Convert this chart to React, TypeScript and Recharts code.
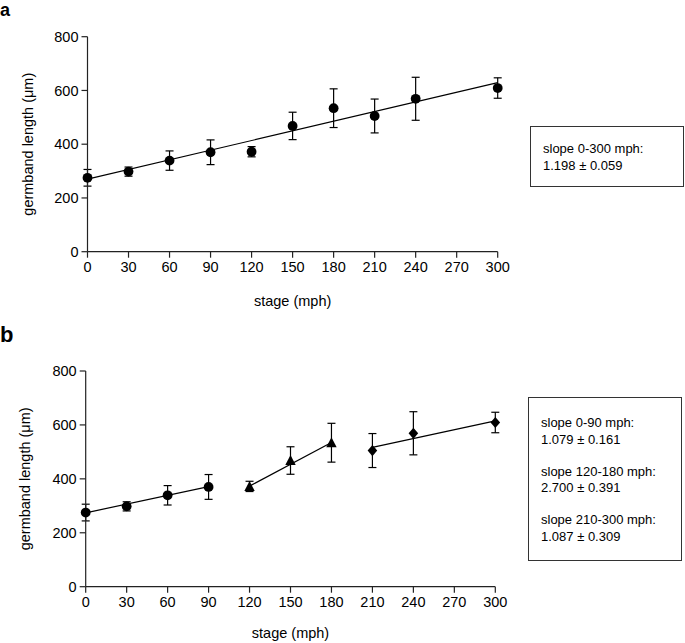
import React from 'react';
import {
  ErrorBar,
  Label,
  ReferenceLine,
  Scatter,
  ScatterChart,
  XAxis,
  YAxis,
} from 'recharts';

// ─── Data ────────────────────────────────────────────────────────────

const STAGES = [0, 30, 60, 90, 120, 150, 180, 210, 240, 300];
const LENGTH_MEANS = [275, 298, 339, 370, 372, 468, 534, 505, 569, 609];
const LENGTH_ERRORS = [31, 17, 36, 46, 19, 51, 72, 63, 80, 38];

const X_TICKS = [0, 30, 60, 90, 120, 150, 180, 210, 240, 270, 300];
const Y_TICKS = [0, 200, 400, 600, 800];

// linear fit over the whole range (panel a)
const FIT_ALL_STAGES = [0, 300];
const FIT_ALL_VALUES = [270, 629];

// piecewise fits (panel b)
const SEGMENT_RANGES = [
  [0, 90],
  [120, 180],
  [210, 300],
];
const SEGMENT_MARKERS = ['circle', 'triangle', 'diamond'];
const SEGMENT_FIT_VALUES = [
  [274, 371],
  [373, 535],
  [517, 615],
];

const SLOPES_A = [['slope 0-300 mph:', '1.198 \u00b1 0.059']];
const SLOPES_B = [
  ['slope 0-90 mph:', '1.079 \u00b1 0.161'],
  ['slope 120-180 mph:', '2.700 \u00b1 0.391'],
  ['slope 210-300 mph:', '1.087 \u00b1 0.309'],
];

// ─── Helpers ─────────────────────────────────────────────────────────

const FONT = '"Liberation Sans", Arial, Helvetica, sans-serif';
const AXIS_COLOR = '#222';

const points = STAGES.map((x, i) => ({ x, y: LENGTH_MEANS[i], err: LENGTH_ERRORS[i] }));

function Marker(props: any) {
  const { cx, cy, kind } = props;
  if (cx == null || cy == null) return null;
  if (kind === 'triangle') {
    return <polygon points={`${cx},${cy - 5.5} ${cx - 5.2},${cy + 4.5} ${cx + 5.2},${cy + 4.5}`} fill="#000" />;
  }
  if (kind === 'diamond') {
    return <polygon points={`${cx},${cy - 5.6} ${cx + 4.8},${cy} ${cx},${cy + 5.6} ${cx - 4.8},${cy}`} fill="#000" />;
  }
  return <circle cx={cx} cy={cy} r={4.9} fill="#000" />;
}

const tickStyle = { fontSize: 14.5, fill: '#000', fontFamily: FONT };

interface PanelProps {
  top: number;
  height: number;
  margin: { top: number; right: number; bottom: number; left: number };
  yTitleX: number;
  xTitleGap: number;
  children: React.ReactNode;
}

const Panel: React.FC<PanelProps> = ({ top, height, margin, yTitleX, xTitleGap, children }) => (
  <div style={{ position: 'absolute', left: 0, top }}>
    <ScatterChart width={685} height={height} margin={margin}>
      <XAxis
        type="number"
        dataKey="x"
        domain={[0, 300]}
        ticks={X_TICKS}
        interval={0}
        height={30}
        tickSize={6}
        tickMargin={4}
        tick={tickStyle}
        stroke={AXIS_COLOR}
        strokeWidth={1.2}
      >
        <Label
          content={({ viewBox }: any) => (
            <text
              x={viewBox.x + viewBox.width / 2}
              y={viewBox.y + xTitleGap}
              textAnchor="middle"
              dominantBaseline="central"
              fontSize={14.5}
              fontFamily={FONT}
              fill="#000"
            >
              stage (mph)
            </text>
          )}
        />
      </XAxis>
      <YAxis
        type="number"
        dataKey="y"
        domain={[0, 800]}
        ticks={Y_TICKS}
        interval={0}
        width={60}
        tickSize={6}
        tickMargin={3}
        tick={tickStyle}
        stroke={AXIS_COLOR}
        strokeWidth={1.2}
      >
        <Label
          content={({ viewBox }: any) => {
            const cy = viewBox.y + viewBox.height / 2;
            return (
              <text
                x={yTitleX}
                y={cy}
                transform={`rotate(-90, ${yTitleX}, ${cy})`}
                textAnchor="middle"
                dominantBaseline="central"
                fontSize={14.5}
                fontFamily={FONT}
                fill="#000"
              >
                germband length (μm)
              </text>
            );
          }}
        />
      </YAxis>
      {children}
    </ScatterChart>
  </div>
);

const SlopeBox: React.FC<{
  left: number;
  top: number;
  width: number;
  height: number;
  padTop: number;
  lineHeight: number;
  gap: number;
  rows: string[][];
}> = ({ left, top, width, height, padTop, lineHeight, gap, rows }) => (
  <div
    style={{
      position: 'absolute',
      left,
      top,
      width,
      height,
      boxSizing: 'border-box',
      border: '1.3px solid #333',
      paddingTop: padTop,
      paddingLeft: 12,
      fontFamily: FONT,
      fontSize: 13,
      lineHeight: `${lineHeight}px`,
      color: '#000',
    }}
  >
    {rows.map((r, i) => (
      <div key={i} style={{ marginTop: i === 0 ? 0 : gap }}>
        <div>{r[0]}</div>
        <div>{r[1]}</div>
      </div>
    ))}
  </div>
);

// ─── App ─────────────────────────────────────────────────────────────

export default function App() {
  return (
    <div
      style={{
        position: 'absolute',
        left: 0,
        top: 0,
        width: 685,
        height: 643,
        background: '#fff',
        fontFamily: FONT,
        overflow: 'hidden',
      }}
    >
      <div style={{ position: 'absolute', left: 0, top: 0, fontSize: 18, fontWeight: 'bold' }}>a</div>
      <div style={{ position: 'absolute', left: 0, top: 324, fontSize: 22, fontWeight: 'bold', lineHeight: '22px' }}>b</div>

      <Panel
        top={0}
        height={320}
        margin={{ top: 36.7, right: 187.3, bottom: 38.3, left: 27.5 }}
        yTitleX={28}
        xTitleGap={49}
      >
        <ReferenceLine
          segment={[
            { x: FIT_ALL_STAGES[0], y: FIT_ALL_VALUES[0] },
            { x: FIT_ALL_STAGES[1], y: FIT_ALL_VALUES[1] },
          ]}
          stroke="#000"
          strokeWidth={1.2}
        />
        <Scatter
          data={points}
          shape={(p: any) => <Marker {...p} kind="circle" />}
          isAnimationActive={false}
        >
          <ErrorBar dataKey="err" direction="y" width={4} stroke="#000" strokeWidth={1.2} />
        </Scatter>
      </Panel>

      <Panel
        top={320}
        height={323}
        margin={{ top: 51, right: 189.7, bottom: 26.3, left: 25.7 }}
        yTitleX={25.5}
        xTitleGap={46}
      >
        {SEGMENT_RANGES.map(([from, to], i) => (
          <ReferenceLine
            key={`fit-${i}`}
            segment={[
              { x: from, y: SEGMENT_FIT_VALUES[i][0] },
              { x: to, y: SEGMENT_FIT_VALUES[i][1] },
            ]}
            stroke="#000"
            strokeWidth={1.2}
          />
        ))}
        {SEGMENT_RANGES.map(([from, to], i) => (
          <Scatter
            key={`seg-${i}`}
            data={points.filter((d) => d.x >= from && d.x <= to)}
            shape={(p: any) => <Marker {...p} kind={SEGMENT_MARKERS[i]} />}
            isAnimationActive={false}
          >
            <ErrorBar dataKey="err" direction="y" width={4} stroke="#000" strokeWidth={1.2} />
          </Scatter>
        ))}
      </Panel>

      <SlopeBox left={530} top={126} width={154} height={61} padTop={13} lineHeight={17} gap={0} rows={SLOPES_A} />
      <SlopeBox left={528} top={397} width={154} height={164} padTop={17} lineHeight={16.5} gap={15.5} rows={SLOPES_B} />
    </div>
  );
}
